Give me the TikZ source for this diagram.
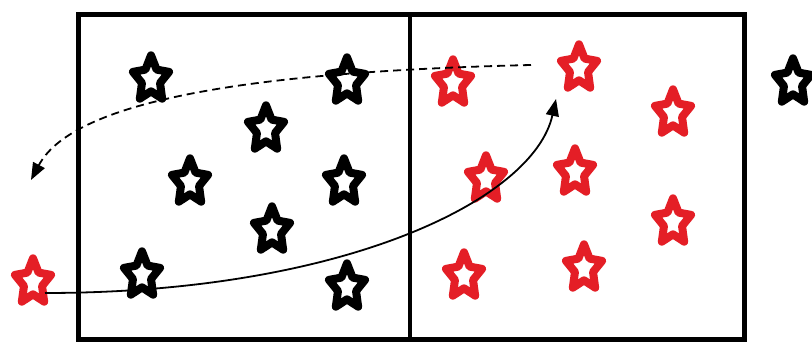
\documentclass[tikz,border=0pt]{standalone}
\usetikzlibrary{arrows.meta}
\definecolor{sred}{RGB}{228,30,38}
\tikzset{
  estarline/.style={x=19pt, y=24pt, line width=8pt, line join=round, fill=white, yshift=-2.3pt},
  pics/estar/.style={code={
    \draw[estarline, draw=#1] (90:1) -- (126:0.5) -- (162:1) -- (198:0.5) -- (234:1)
      -- (270:0.5) -- (306:1) -- (342:0.5) -- (18:1) -- (54:0.5) -- cycle;
    \coordinate (-c) at (0,0);
  }},
  boxline/.style={line width=5pt},
  divline/.style={line width=4pt},
  conn/.style={line width=1.8pt, -{Triangle[length=17pt,width=13pt]}},
  dashconn/.style={conn, dash pattern=on 8pt off 5pt}
}
\begin{document}
\begin{tikzpicture}[x=1pt, y=1pt]
\useasboundingbox (0,0) rectangle (812,342);
\fill[white] (0,0) rectangle (812,342);
% box
\draw[boxline] (78,2) rectangle (744,327);
\coordinate (dtop) at (409.5,327);
\coordinate (dbot) at (409.5,0);
\draw[divline] (dtop) -- (dbot);
% black stars
\pic (a) at (151,265) {estar=black};
\pic (b) at (347,263) {estar=black};
\pic (c) at (266,215) {estar=black};
\pic (d) at (190,162) {estar=black};
\pic (e) at (344,162) {estar=black};
\pic (f) at (272,114) {estar=black};
\pic (g) at (142,69) {estar=black};
\pic (h) at (347,57) {estar=black};
\pic (x) at (793,262) {estar=black};
% red stars
\pic (r1) at (453,261) {estar=sred};
\pic (r2) at (579,276) {estar=sred};
\pic (r3) at (673,231) {estar=sred};
\pic (r4) at (486,165) {estar=sred};
\pic (r5) at (575,172) {estar=sred};
\pic (r6) at (673,122) {estar=sred};
\pic (r7) at (464,68) {estar=sred};
\pic (r8) at (584,76) {estar=sred};
\pic (rl) at (33,62) {estar=sred};
% connectors
\coordinate (s1) at (45,49);
\coordinate (e1) at (556,243);
\draw[conn] (s1) .. controls (345,49) and (534,143) .. (e1);
\coordinate (s2) at (531,277);
\coordinate (e2) at (31,162);
\draw[dashconn] (s2) .. controls (281,271) and (76,247) .. (e2);
\end{tikzpicture}
\end{document}
